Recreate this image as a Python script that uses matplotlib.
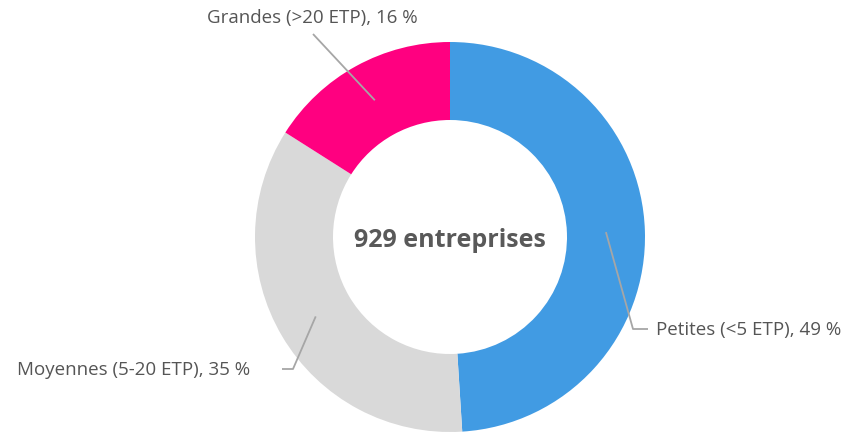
import numpy as np
import matplotlib
matplotlib.use("Agg")
import matplotlib.pyplot as plt

categories = ["Petites (<5 ETP)", "Moyennes (5-20 ETP)", "Grandes (>20 ETP)"]
shares = [49, 35, 16]
colors = ["#419BE3", "#D9D9D9", "#FF0080"]
total_label = "929 entreprises"

W, H = 848, 435
cx, cy = 450, 238
r_out, r_in = 195, 117

plt.rcParams["font.family"] = ["Open Sans", "DejaVu Sans"]

fig = plt.figure(figsize=(W / 100, H / 100), dpi=100)
ax = fig.add_axes([0, 0, 1, 1])

wedges, _ = ax.pie(shares, colors=colors, startangle=90, counterclock=False,
                   center=(cx, H - cy), radius=r_out,
                   wedgeprops=dict(width=r_out - r_in, linewidth=0))
ax.set_xlim(0, W)
ax.set_ylim(0, H)
ax.set_aspect("equal")
ax.axis("off")

ax.text(cx, H - cy - 3, total_label, ha="center", va="center",
        fontsize=18, fontweight="bold", color="#595959")

# label layout: (elbow points in pixel coords, text position, alignment)
layout = [
    ([(633, 330), (648, 330)], (656, 330), "left"),
    ([(293, 370), (282, 370)], (250, 370), "right"),
    ([(313, 35)], (312, 18), "center"),
]

r_mid = (r_out + r_in) / 2
for w, cat, val, (pts, tpos, ha) in zip(wedges, categories, shares, layout):
    ang = np.deg2rad((w.theta1 + w.theta2) / 2)
    x0 = cx + r_mid * np.cos(ang)
    y0 = (H - cy) + r_mid * np.sin(ang)
    xs = [x0] + [p[0] for p in pts]
    ys = [y0] + [H - p[1] for p in pts]
    ax.plot(xs, ys, color="#A6A6A6", lw=1.3, solid_capstyle="butt")
    ax.text(tpos[0], H - tpos[1], f"{cat}, {val} %", ha=ha, va="center",
            fontsize=13.5, color="#555555")

fig.savefig("out.png", dpi=100)
